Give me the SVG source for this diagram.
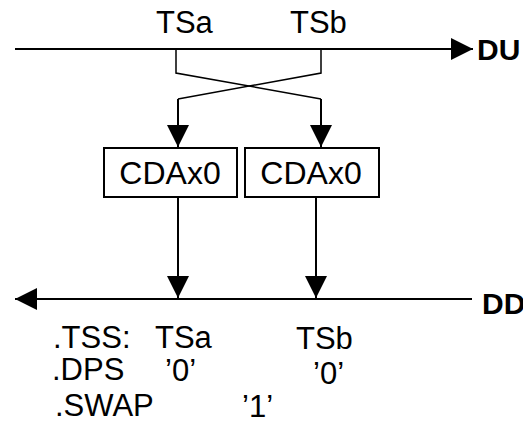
<svg xmlns="http://www.w3.org/2000/svg" width="523" height="425" viewBox="0 0 523 425">
  <style>
    .t { font-family: "Liberation Sans", Arial, sans-serif; font-size: 31px; fill: #000; }
    .c { font-family: "Liberation Sans", Arial, sans-serif; font-size: 32px; fill: #000; }
    .b { font-family: "Liberation Sans", Arial, sans-serif; font-size: 30px; font-weight: bold; fill: #000; }
    .box { fill: #fff; stroke: #000; stroke-width: 2; }
    .ln { fill: none; stroke: #000; stroke-width: 2; }
    .thin { fill: none; stroke: #000; stroke-width: 1.5; }
  </style>
  <defs>
    <marker id="ah" markerUnits="userSpaceOnUse" markerWidth="22" markerHeight="22" refX="22" refY="11" orient="auto">
      <path d="M0,0 L22,11 L0,22 z" fill="#000"/>
    </marker>
  </defs>
  <rect width="523" height="425" fill="#fff"/>
  <g id="connectors">
    <path class="ln" d="M15,49 H473" marker-end="url(#ah)"/>
    <path class="ln" d="M472,299 H15" marker-end="url(#ah)"/>
    <path class="thin" d="M176,49 V73 L321,99"/>
    <path class="ln" d="M321,99 V147" marker-end="url(#ah)"/>
    <path class="thin" d="M321,49 V73 L178,99"/>
    <path class="ln" d="M178,99 V147" marker-end="url(#ah)"/>
    <path class="ln" d="M178,197 V298" marker-end="url(#ah)"/>
    <path class="ln" d="M316,197 V298" marker-end="url(#ah)"/>
  </g>
  <g id="box-a">
    <rect class="box" x="104" y="148" width="133" height="49"/>
    <text class="c" x="170" y="184" text-anchor="middle">CDAx0</text>
  </g>
  <g id="box-b">
    <rect class="box" x="245" y="148" width="134" height="49"/>
    <text class="c" x="311" y="184" text-anchor="middle">CDAx0</text>
  </g>
  <g id="top-labels">
    <text class="t" x="156" y="33">TSa</text>
    <text class="t" x="290" y="33">TSb</text>
    <text class="b" x="477" y="60">DU</text>
  </g>
  <g id="bottom-labels">
    <text class="b" x="482" y="314">DD</text>
    <text class="t" x="53" y="348">.TSS:</text>
    <text class="t" x="155" y="348">TSa</text>
    <text class="t" x="296" y="349">TSb</text>
    <text class="t" x="52" y="380">.DPS</text>
    <text class="t" x="165" y="381">’0’</text>
    <text class="t" x="313" y="384">’0’</text>
    <text class="t" x="55" y="416">.SWAP</text>
    <text class="t" x="242" y="417">’1’</text>
  </g>
</svg>
